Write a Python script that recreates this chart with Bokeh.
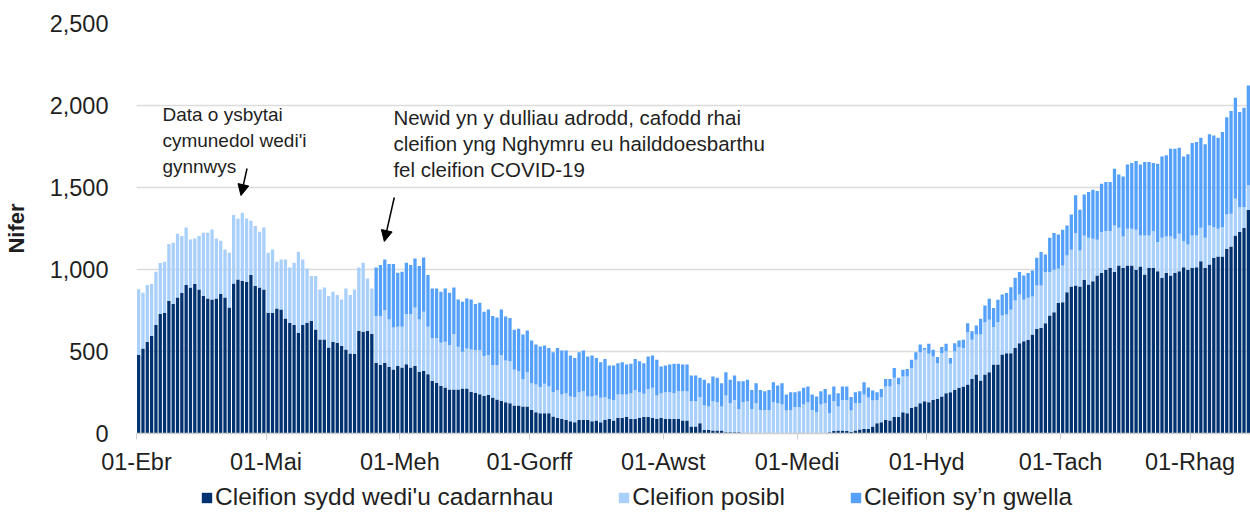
import pandas as pd
from bokeh.plotting import figure
from bokeh.layouts import column
from bokeh.models import (ColumnDataSource, FixedTicker, Legend, LegendItem, Label,
                          Arrow, NormalHead, Range1d, NumeralTickFormatter)
from bokeh.embed import file_html
from bokeh.resources import INLINE

start_date = "2020-04-01"
n_days = 258
dates = pd.date_range(start_date, periods=n_days, freq="D")

month_labels = ["01-Ebr", "01-Mai", "01-Meh", "01-Gorff", "01-Awst",
                "01-Medi", "01-Hyd", "01-Tach", "01-Rhag"]
series_names = ["Cleifion sydd wedi'u cadarnhau", "Cleifion posibl", "Cleifion sy’n gwella"]
colors = ["#003271", "#a9cffb", "#55a1fa"]

confirmed = [
    480, 518, 559, 594, 661, 728, 736, 809, 789, 829, 858, 905, 890, 911, 878, 838, 823, 817, 823, 850, 829, 768, 915, 939, 931, 925, 966, 899, 890, 878,
    736, 736, 762, 756, 701, 675, 661, 614, 661, 675, 687, 634, 573, 573, 525, 559, 553, 533, 512, 488, 484, 626, 620, 626, 606, 431, 417, 431, 407, 390, 411,
    403, 423, 403, 411, 376, 382, 362, 321, 309, 289, 281, 268, 268, 268, 274, 274, 254, 248, 240, 228, 234, 220, 207, 199, 191, 185, 171, 171, 165, 165,
    144, 130, 124, 124, 124, 104, 96, 89, 83, 75, 69, 83, 83, 83, 75, 79, 69, 83, 89, 79, 96, 96, 100, 89, 89, 96, 100, 100, 96, 89, 96,
    89, 89, 89, 89, 79, 79, 43, 43, 63, 22, 22, 18, 18, 18, 8, 8, 8, 8, 3, 3, 3, 3, 3, 3, 4, 4, 3, 3, 3, 3, 2,
    2, 2, 2, 2, 2, 2, 2, 8, 16, 18, 18, 16, 10, 18, 24, 28, 28, 43, 63, 69, 83, 79, 100, 100, 130, 124, 157, 165, 185, 197,
    191, 205, 211, 226, 246, 252, 266, 279, 287, 299, 333, 360, 323, 360, 374, 421, 421, 482, 490, 490, 522, 551, 563, 571, 604, 638, 644, 673, 720, 740, 795,
    801, 862, 897, 903, 897, 937, 909, 929, 964, 978, 998, 1010, 984, 1025, 1010, 1025, 1025, 998, 1019, 970, 1010, 1010, 990, 949, 978, 964, 978, 990, 1014, 998,
    1010, 1014, 1051, 1010, 1031, 1071, 1080, 1080, 1126, 1141, 1208, 1228, 1254, 1364,
]

suspected = [
    400, 340, 346, 317, 325, 311, 311, 346, 374, 389, 346, 351, 293, 278, 326, 386, 401, 427, 366, 325, 293, 334, 417, 370, 415, 386, 331, 366, 340, 378,
    366, 386, 285, 305, 360, 337, 380, 494, 400, 331, 273, 326, 305, 317, 313, 305, 291, 284, 372, 356, 394, 386, 421, 319, 278, 285, 299, 321, 288, 256, 240,
    248, 305, 325, 357, 319, 360, 289, 262, 274, 264, 278, 271, 338, 261, 224, 244, 258, 260, 268, 244, 244, 197, 210, 279, 254, 256, 217, 209, 168, 209,
    163, 169, 159, 179, 163, 148, 170, 149, 163, 151, 153, 169, 175, 143, 151, 153, 149, 139, 122, 126, 142, 142, 138, 157, 177, 156, 142, 172, 183, 143, 150,
    163, 163, 157, 169, 179, 179, 154, 154, 159, 149, 143, 179, 173, 147, 224, 177, 197, 142, 188, 194, 147, 182, 141, 141, 140, 187, 182, 174, 137, 141, 159,
    159, 175, 189, 142, 128, 175, 183, 116, 181, 147, 187, 189, 130, 167, 161, 210, 192, 158, 142, 153, 204, 208, 240, 199, 218, 224, 243, 284, 311, 313,
    295, 265, 218, 264, 256, 173, 236, 248, 235, 319, 238, 244, 281, 319, 319, 228, 258, 238, 236, 264, 289, 297, 252, 256, 232, 265, 259, 311, 264, 258, 209,
    224, 224, 223, 319, 219, 271, 284, 258, 217, 250, 236, 224, 285, 229, 191, 223, 223, 244, 189, 238, 198, 224, 177, 244, 223, 237, 209, 228, 159, 155,
    198, 194, 203, 183, 238, 187, 168, 178, 210, 199, 223, 152, 126, 149,
]

recovering = [
    0, 0, 0, 0, 0, 0, 0, 0, 0, 0, 0, 0, 0, 0, 0, 0, 0, 0, 0, 0, 0, 0, 0, 0, 0, 0, 0, 0, 0, 0,
    0, 0, 0, 0, 0, 0, 0, 0, 0, 0, 0, 0, 0, 0, 0, 0, 0, 0, 0, 0, 0, 0, 0, 0, 0, 296, 311, 309, 338, 387, 329,
    335, 313, 299, 299, 326, 331, 315, 301, 301, 311, 325, 319, 284, 288, 305, 305, 305, 281, 289, 270, 278, 299, 290, 278, 269, 264, 244, 258, 271, 254,
    260, 244, 248, 234, 235, 244, 256, 268, 260, 250, 239, 244, 248, 244, 250, 229, 217, 233, 204, 210, 191, 197, 183, 179, 189, 189, 187, 198, 197, 217, 163,
    163, 169, 179, 167, 163, 163, 157, 157, 118, 156, 142, 151, 149, 142, 142, 142, 149, 169, 128, 130, 116, 122, 122, 114, 122, 122, 108, 130, 98, 108, 91,
    97, 102, 96, 94, 96, 81, 87, 114, 90, 81, 82, 82, 82, 67, 73, 75, 61, 61, 47, 50, 46, 46, 60, 41, 40, 46, 49, 47, 47, 12,
    61, 40, 37, 37, 45, 36, 49, 40, 49, 55, 53, 55, 95, 102, 128, 117, 136, 128, 130, 138, 138, 136, 149, 151, 158, 168, 203, 108, 209, 224, 210,
    217, 183, 216, 230, 248, 250, 279, 299, 297, 295, 299, 299, 345, 326, 366, 393, 401, 419, 433, 447, 447, 415, 478, 496, 495, 535, 549, 524, 516, 549,
    563, 569, 549, 570, 555, 559, 555, 580, 593, 626, 616, 580, 606, 609,
]

annotation_1 = ["Data o ysbytai", "cymunedol wedi'i", "gynnwys"]
annotation_2 = ["Newid yn y dulliau adrodd, cafodd rhai",
                "cleifion yng Nghymru eu hailddoesbarthu",
                "fel cleifion COVID-19"]

FONT = "Liberation Sans"
TXT = "#1f1f1f"
TICK_SIZE = "23.5px"

x_pos = [i + 0.5 for i in range(n_days)]
source = ColumnDataSource(dict(x=x_pos, date=dates, confirmed=confirmed,
                               suspected=suspected, recovering=recovering))

# ---------------- main chart ----------------
p = figure(width=1250, height=478, output_backend="svg", toolbar_location=None,
           x_range=Range1d(0, n_days), y_range=Range1d(0, 2500),
           min_border_left=132, min_border_right=0, min_border_top=23, min_border_bottom=45)
p.outline_line_color = None
p.background_fill_color = "white"

renderers = p.vbar_stack(["confirmed", "suspected", "recovering"], x="x", width=0.76,
                         color=colors, line_color=None, source=source)

month_starts = [i for i, d in enumerate(dates) if d.day == 1]
p.xaxis.ticker = FixedTicker(ticks=month_starts)
p.xaxis.major_label_overrides = {t: lab for t, lab in zip(month_starts, month_labels)}
p.xaxis.axis_line_color = "#d0d0d0"
p.xaxis.axis_line_width = 1.5
p.xaxis.major_tick_line_color = "#d0d0d0"
p.xaxis.major_tick_out = 6
p.xaxis.major_tick_in = 0
p.xaxis.minor_tick_line_color = None
p.xaxis.major_label_standoff = 9
p.xaxis.major_label_text_font = FONT
p.xaxis.major_label_text_font_size = TICK_SIZE
p.xaxis.major_label_text_color = TXT

p.yaxis.ticker = FixedTicker(ticks=[0, 500, 1000, 1500, 2000, 2500])
p.yaxis.formatter = NumeralTickFormatter(format="0,0")
p.yaxis.axis_line_color = None
p.yaxis.major_tick_line_color = None
p.yaxis.minor_tick_line_color = None
p.yaxis.major_label_standoff = 22
p.yaxis.major_label_text_font = FONT
p.yaxis.major_label_text_font_size = TICK_SIZE
p.yaxis.major_label_text_color = TXT
p.yaxis.axis_label = "Nifer"
p.yaxis.axis_label_text_font = FONT
p.yaxis.axis_label_text_font_style = "bold"
p.yaxis.axis_label_text_font_size = "22px"
p.yaxis.axis_label_text_color = TXT
p.yaxis.axis_label_standoff = 18

p.xgrid.grid_line_color = None
p.ygrid.grid_line_color = "#dcdcdc"
p.ygrid.grid_line_width = 1.5

for k, line in enumerate(annotation_1):
    p.add_layout(Label(x=6.0, y=2010 - k * 160, text=line, text_baseline="top",
                       text_font=FONT, text_font_size="19px", text_color=TXT))
for k, line in enumerate(annotation_2):
    p.add_layout(Label(x=59.5, y=2000 - k * 160, text=line, text_baseline="top",
                       text_font=FONT, text_font_size="20.5px", text_color=TXT))

p.add_layout(Arrow(end=NormalHead(size=11, fill_color="black", line_color="black"),
                   x_start=25.6, y_start=1616, x_end=24.2, y_end=1451,
                   line_color="black", line_width=1.5))
p.add_layout(Arrow(end=NormalHead(size=11, fill_color="black", line_color="black"),
                   x_start=59.7, y_start=1439, x_end=57.4, y_end=1171,
                   line_color="black", line_width=1.5))

# ---------------- legend strip ----------------
lg = figure(width=1250, height=35, output_backend="svg", toolbar_location=None,
            x_range=Range1d(0, 1), y_range=Range1d(0, 1),
            x_axis_type=None, y_axis_type=None, min_border=0)
lg.outline_line_color = None
lg.xgrid.grid_line_color = None
lg.ygrid.grid_line_color = None
swatches = [lg.vbar(x=[0.5], top=[0], width=0.001, color=c, line_color=None) for c in colors]
items = [LegendItem(label=name, renderers=[r]) for name, r in zip(series_names, swatches)]
legend = Legend(items=items, orientation="horizontal", location=(64, 2),
                glyph_width=13, glyph_height=13, label_standoff=2, spacing=64,
                padding=0, margin=0, border_line_color=None, background_fill_alpha=0,
                label_text_font=FONT, label_text_font_size="24.5px", label_text_color=TXT)
lg.add_layout(legend, "center")

layout = column(p, lg, spacing=0)
open("out.html", "w").write(file_html(layout, INLINE))
